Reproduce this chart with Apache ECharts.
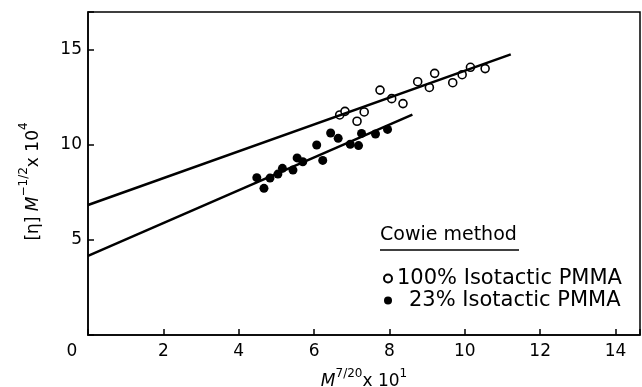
<!DOCTYPE html>
<html>
<head>
<meta charset="utf-8">
<script src="https://cdn.jsdelivr.net/npm/echarts@6/dist/echarts.min.js"></script>
<style>
  html, body { margin: 0; padding: 0; background: #fff; }
  #chart { width: 642px; height: 387px; }
</style>
</head>
<body>
<div id="chart"></div>
<script>
// 100% isotactic PMMA (open circles)
const isoX = [6.68, 6.82, 7.14, 7.33, 7.75, 8.06, 8.36, 8.75, 9.06, 9.20, 9.68, 9.93, 10.15, 10.54]
const isoY = [11.58, 11.77, 11.25, 11.74, 12.89, 12.44, 12.18, 13.33, 13.03, 13.77, 13.28, 13.70, 14.09, 14.02]
// 23% isotactic PMMA (filled circles)
const atX = [4.48, 4.67, 4.83, 5.04, 5.16, 5.44, 5.55, 5.70, 6.07, 6.23, 6.44, 6.64, 6.96, 7.18, 7.26, 7.63, 7.95]
const atY = [8.28, 7.72, 8.26, 8.47, 8.77, 8.68, 9.32, 9.12, 10.0, 9.19, 10.63, 10.35, 10.04, 9.97, 10.61, 10.58, 10.82]
// fitted straight lines, end points
const isoFitX = [0, 11.22]
const isoFitY = [6.84, 14.77]
const atFitX = [0, 8.61]
const atFitY = [4.16, 11.6]
const xTicks = [0, 2, 4, 6, 8, 10, 12, 14]
const yTicks = [5, 10, 15]

const pairs = (xs, ys) => xs.map((x, i) => [x, ys[i]])
const FONT = 'DejaVu Sans'

const chart = echarts.init(document.getElementById('chart'))
chart.setOption({
  animation: false,
  backgroundColor: '#fff',
  textStyle: { fontFamily: FONT, color: '#000' },
  grid: {
    left: 88, top: 12, right: 2, bottom: 52,
    outerBoundsMode: 'none', containLabel: false,
    show: true, borderColor: '#000', borderWidth: 1.5
  },
  xAxis: {
    type: 'value', min: 0, max: 14.65, interval: 2,
    axisLine: { lineStyle: { color: '#000', width: 1.5 } },
    axisTick: { inside: true, length: 6, lineStyle: { color: '#000', width: 1.5 } },
    splitLine: { show: false },
    axisLabel: {
      margin: 8, fontSize: 17, color: '#000', fontFamily: FONT,
      formatter: v => xTicks.includes(v) ? (v === 0 ? '{z|0}' : String(v)) : '',
      rich: { z: { fontSize: 17, fontFamily: FONT, padding: [0, 32, 0, 0] } }
    },
    name: '{i|M}{sup|7/20}{b|x 10}{sup|1}',
    nameLocation: 'middle', nameGap: 33,
    nameTextStyle: {
      rich: {
        i: { fontSize: 17, fontStyle: 'italic', fontFamily: FONT, lineHeight: 22, verticalAlign: 'bottom' },
        b: { fontSize: 17, fontFamily: FONT, lineHeight: 22, verticalAlign: 'bottom' },
        sup: { fontSize: 12, fontFamily: FONT, lineHeight: 12, verticalAlign: 'top' }
      }
    }
  },
  yAxis: {
    type: 'value', min: 0, max: 17, interval: 5,
    axisLine: { lineStyle: { color: '#000', width: 1.5 } },
    axisTick: { inside: true, length: 6, lineStyle: { color: '#000', width: 1.5 } },
    splitLine: { show: false },
    axisLabel: {
      margin: 6, fontSize: 17, color: '#000', fontFamily: FONT,
      formatter: v => yTicks.includes(v) ? String(v) : ''
    },
    name: '{b|[η] }{i|M}{sup|−1/2}{b|x 10}{sup|4}',
    nameLocation: 'middle', nameGap: 46, nameRotate: 90,
    nameTextStyle: {
      padding: [0, 16, 0, 0],
      rich: {
        i: { fontSize: 17, fontStyle: 'italic', fontFamily: FONT, lineHeight: 24, verticalAlign: 'bottom' },
        b: { fontSize: 17, fontFamily: FONT, lineHeight: 24, verticalAlign: 'bottom' },
        sup: { fontSize: 12, fontFamily: FONT, lineHeight: 12, verticalAlign: 'top' }
      }
    }
  },
  legend: {
    orient: 'vertical', left: 378, top: 263,
    itemWidth: 8, itemHeight: 8, itemGap: 1,
    data: ['100% Isotactic PMMA', '23% Isotactic PMMA'],
    textStyle: { fontSize: 21, fontFamily: FONT, color: '#000', lineHeight: 20,
      rich: { ind: { fontSize: 21, fontFamily: FONT, lineHeight: 20, padding: [0, 0, 0, 12] } } },
    formatter: name => name.startsWith('23') ? '{ind|' + name + '}' : name
  },
  graphic: [
    { type: 'text', left: 380, top: 226,
      style: { text: 'Cowie method', font: '19px "DejaVu Sans"', fill: '#000' } },
    { type: 'line', shape: { x1: 380, y1: 250, x2: 519, y2: 250 },
      style: { stroke: '#000', lineWidth: 1.5 } }
  ],
  series: [
    { type: 'line', data: pairs(isoFitX, isoFitY), symbol: 'none',
      lineStyle: { color: '#000', width: 2.5 } },
    { type: 'line', data: pairs(atFitX, atFitY), symbol: 'none',
      lineStyle: { color: '#000', width: 2.5 } },
    { type: 'scatter', name: '100% Isotactic PMMA', data: pairs(isoX, isoY),
      symbol: 'circle', symbolSize: 8,
      itemStyle: { color: '#fff', borderColor: '#000', borderWidth: 1.6, opacity: 1 } },
    { type: 'scatter', name: '23% Isotactic PMMA', data: pairs(atX, atY),
      symbol: 'circle', symbolSize: 9,
      itemStyle: { color: '#000', opacity: 1 } }
  ]
})
</script>
</body>
</html>
